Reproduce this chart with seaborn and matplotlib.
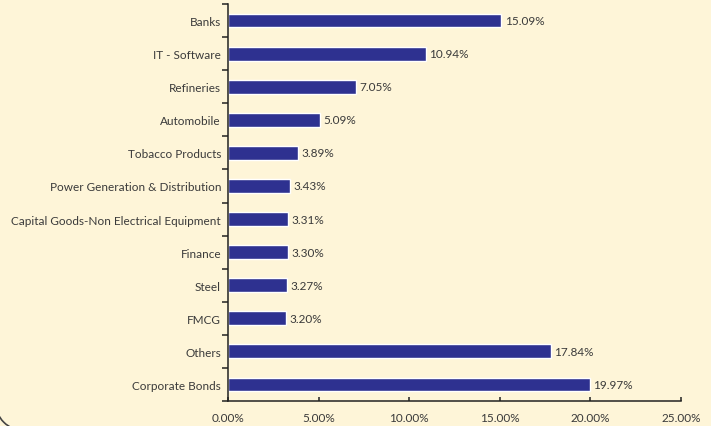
import matplotlib
matplotlib.use("Agg")
import matplotlib.pyplot as plt
from matplotlib.patches import Arc
from matplotlib.ticker import FixedLocator, FuncFormatter
import numpy as np
import pandas as pd
import seaborn as sns

sectors = [
    "Banks", "IT - Software", "Refineries", "Automobile", "Tobacco Products",
    "Power Generation & Distribution", "Capital Goods-Non Electrical Equipment",
    "Finance", "Steel", "FMCG", "Others", "Corporate Bonds",
]
weights = [15.09, 10.94, 7.05, 5.09, 3.89, 3.43, 3.31, 3.30, 3.27, 3.20, 17.84, 19.97]
x_ticks = [0, 5, 10, 15, 20, 25]

bg = "#FEF5D8"
bar_color = "#2E3190"
text_color = "#3a3a3a"
fs = 8.5

sns.set_theme(style="white")
plt.rcParams["font.family"] = ["Lato", "DejaVu Sans"]

df = pd.DataFrame({"sector": sectors, "weight": weights})

fig = plt.figure(figsize=(7.11, 4.27), dpi=100, facecolor=bg)
ax = fig.add_axes([228 / 711, 25 / 427, 453 / 711, 397 / 427])
ax.set_facecolor(bg)

sns.barplot(data=df, x="weight", y="sector", order=sectors, color=bar_color,
            saturation=1, width=0.42, ax=ax)

for i, v in enumerate(weights):
    ax.text(v + 0.18, i, f"{v:.2f}%", va="center", ha="left",
            fontsize=fs, color=text_color)

ax.set_xlim(0, 25)
ax.set_ylim(len(sectors) - 0.5, -0.5)
ax.set_xticks(x_ticks)
ax.xaxis.set_major_formatter(FuncFormatter(lambda v, _: f"{v:.2f}%"))
ax.set_xlabel("")
ax.set_ylabel("")

# category labels on major ticks (no marks), boundary marks as minor ticks
ax.yaxis.set_minor_locator(FixedLocator(np.arange(-0.5, len(sectors), 1.0)))
ax.tick_params(axis="y", which="major", length=0, pad=5, labelsize=fs,
               labelcolor=text_color)
ax.tick_params(axis="y", which="minor", length=4, width=1.1, color="#222222",
               direction="out", left=True)
ax.tick_params(axis="x", which="major", length=3, width=1.1, color="#222222",
               direction="in", pad=8, labelsize=fs, labelcolor=text_color,
               bottom=True)

for side in ("top", "right"):
    ax.spines[side].set_visible(False)
for side in ("left", "bottom"):
    ax.spines[side].set_color("#222222")
    ax.spines[side].set_linewidth(1.1)

# rounded corner of the surrounding frame
corner = Arc((25, 25), 60, 60, theta1=180, theta2=270, transform=None,
             color="#444444", lw=1.2)
fig.patches.append(corner)

fig.savefig("out.png", dpi=100, facecolor=bg)
